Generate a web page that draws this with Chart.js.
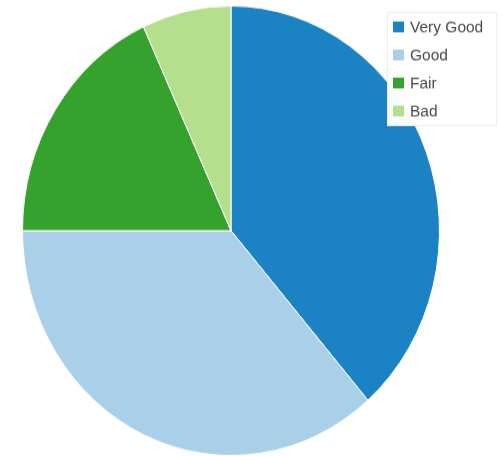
<!DOCTYPE html>
<html lang="en">
<head>
  <meta charset="UTF-8">
  <title>Rating pie</title>
  <script src="https://cdn.jsdelivr.net/npm/chart.js"></script>
  <style>
    html, body { margin: 0; padding: 0; background: #fff; width: 503px; height: 456px; }
    #wrap { width: 503px; height: 423px; transform: scaleY(1.078); transform-origin: 0 0; }
  </style>
</head>
<body>
  <div id="wrap">
    <canvas id="pie" width="503" height="423"></canvas>
  </div>

  <script>
    const labels = ['Very Good', 'Good', 'Fair', 'Bad'];
    const values = [38.6, 36.4, 18.1, 6.9];
    const colors = ['#1b82c4', '#a9d0e8', '#35a22d', '#b4e08e'];

    // boxed legend in the top right corner, over the pie
    const boxLegend = {
      id: 'boxLegend',
      afterDraw(chart) {
        const ctx = chart.ctx;
        ctx.save();
        ctx.fillStyle = 'rgba(255,255,255,0.97)';
        ctx.fillRect(387, 11, 110, 106);
        ctx.strokeStyle = '#eeeeee';
        ctx.lineWidth = 1;
        ctx.strokeRect(387.5, 11.5, 109, 105);
        ctx.font = '15.5px "Liberation Sans", Arial, sans-serif';
        ctx.textBaseline = 'middle';
        labels.forEach((lab, i) => {
          const y = 25 + i * 26;
          ctx.fillStyle = colors[i];
          ctx.fillRect(392, y - 6, 13, 12);
          ctx.strokeStyle = '#ffffff';
          ctx.strokeRect(392.5, y - 5.5, 12, 11);
          ctx.fillStyle = '#4a4a4a';
          ctx.fillText(lab, 410, y + 1);
        });
        ctx.restore();
      }
    };

    new Chart(document.getElementById('pie'), {
      type: 'pie',
      data: {
        labels: labels,
        datasets: [{
          data: values,
          backgroundColor: colors,
          borderColor: '#ffffff',
          borderWidth: 1
        }]
      },
      options: {
        responsive: false,
        animation: false,
        layout: { padding: { left: 22, right: 63, top: 5, bottom: 0 } },
        plugins: {
          legend: { display: false },
          tooltip: { enabled: false }
        }
      },
      plugins: [boxLegend]
    });
  </script>
</body>
</html>
